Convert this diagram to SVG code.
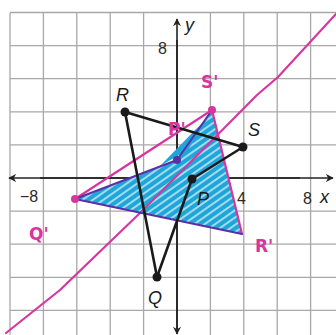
<svg xmlns="http://www.w3.org/2000/svg" width="336" height="335" viewBox="0 0 336 335">
<style>
.grid{stroke:#a8a8a8;stroke-width:1.3;fill:none}
.axis{stroke:#222;stroke-width:1.6;fill:none}
.blk{stroke:#1a1a1a;stroke-width:2.6;fill:none;stroke-linecap:round}
.mag{stroke:#d8369f;stroke-width:2.2;fill:none;stroke-linecap:round;stroke-linejoin:round}
.pur{stroke:#5a2fa8;stroke-width:2;fill:none;stroke-linecap:round}
.lbl{font-family:"Liberation Sans",Arial,sans-serif;font-size:18px;font-style:italic;fill:#1a1a1a}
.num{font-family:"Liberation Sans",Arial,sans-serif;font-size:16px;fill:#2a2a2a}
.hand{font-family:"DejaVu Sans",sans-serif;font-size:17px;font-weight:bold;fill:#d8369f}
</style>
<defs>
<marker id="arr" viewBox="0 0 10 10" refX="9" refY="5" markerWidth="8" markerHeight="8" markerUnits="userSpaceOnUse" orient="auto">
<path d="M0,0 L10,5 L0,10 L3,5 z" fill="#222"/>
</marker>
<pattern id="hatch" width="6" height="6" patternUnits="userSpaceOnUse" patternTransform="rotate(-35)">
<rect width="6" height="6" fill="#1fa6d9"/>
<line x1="0" y1="1" x2="6" y2="1" stroke="#e9f7fc" stroke-width="1.3"/>
</pattern>
</defs>
<rect width="336" height="335" fill="#fff"/>
<g id="grid">
<path class="grid" d="M10,13V335M43.4,13V335M76.8,13V335M110.2,13V335M143.6,13V335M210.4,13V335M243.8,13V335M277.2,13V335M310.6,13V335"/>
<path class="grid" d="M10,12.5H336M10,45.6H336M10,78.7H336M10,111.8H336M10,144.9H336M10,211.1H336M10,244.2H336M10,277.3H336M10,310.4H336"/>
</g>
<g id="axes">
<line class="axis" x1="177" y1="330" x2="177" y2="19" marker-end="url(#arr)"/>
<line class="axis" x1="177" y1="40" x2="177" y2="334" marker-end="url(#arr)"/>
<line class="axis" x1="40" y1="178" x2="333" y2="178" marker-end="url(#arr)"/>
<line class="axis" x1="300" y1="178" x2="9" y2="178" marker-end="url(#arr)"/>
<text class="lbl" x="185" y="31">y</text>
<text class="lbl" x="320" y="203">x</text>
<text class="num" x="158" y="54">8</text>
<text class="num" x="20" y="202">−8</text>
<text class="num" x="104" y="204">4</text>
<text class="num" x="237" y="204">4</text>
<text class="num" x="303" y="204">8</text>
</g>
<g id="image-shape">
<path d="M75,199 L177,160 L212,110 L242,234 Z" fill="url(#hatch)"/>
<path d="M160,166 L195,130 L208,118 L188,150 Z" fill="#1fa6d9"/>
</g>
<g id="connectors">
<polyline class="mag" points="6,333 60,290 140,213 257,95 278,77 336,14"/>
<line class="mag" x1="75" y1="199" x2="212" y2="110"/>
<line class="mag" x1="212" y1="110" x2="242" y2="234"/>
<line class="pur" x1="75" y1="199" x2="177" y2="160"/>
<line class="pur" x1="177" y1="160" x2="212" y2="110"/>
<line class="pur" x1="75" y1="199" x2="242" y2="234"/>
<line class="blk" x1="125" y1="112" x2="243" y2="147"/>
<line class="blk" x1="243" y1="147" x2="192" y2="179"/>
<line class="blk" x1="192" y1="179" x2="157" y2="277"/>
<line class="blk" x1="157" y1="277" x2="125" y2="112"/>
</g>
<g id="R"><circle cx="125" cy="112" r="4.5" fill="#1a1a1a"/><text class="lbl" x="116" y="101">R</text></g>
<g id="S"><circle cx="243" cy="147" r="4.5" fill="#1a1a1a"/><text class="lbl" x="248" y="136">S</text></g>
<g id="P"><circle cx="192" cy="179" r="4.5" fill="#1a1a1a"/><text class="lbl" x="197" y="205">P</text></g>
<g id="Q"><circle cx="157" cy="277" r="4.5" fill="#1a1a1a"/><text class="lbl" x="148" y="304">Q</text></g>
<g id="Q-prime"><circle cx="75" cy="199" r="4" fill="#d8369f"/><text class="hand" x="29" y="240">Q'</text></g>
<g id="S-prime"><circle cx="212" cy="110" r="4" fill="#d8369f"/><text class="hand" x="201" y="88">S'</text></g>
<g id="R-prime"><text class="hand" x="255" y="252">R'</text></g>
<g id="P-prime"><circle cx="177" cy="160" r="4" fill="#5a2fa8"/><text class="hand" x="168" y="135">P'</text></g>
</svg>
